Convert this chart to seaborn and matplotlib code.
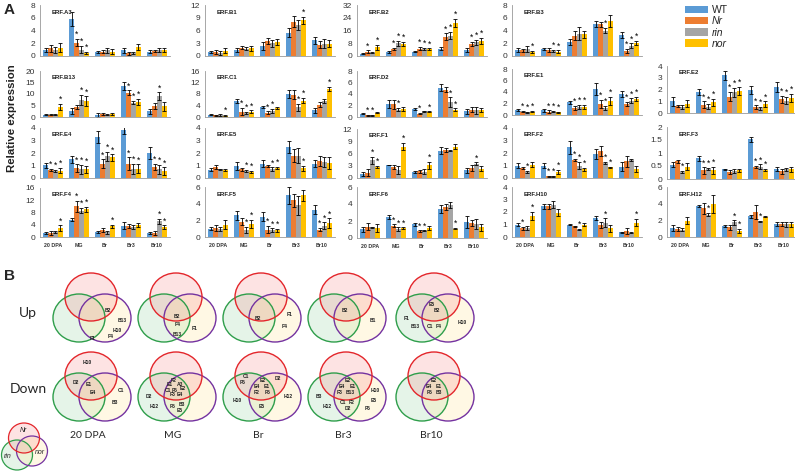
import numpy as np
import pandas as pd
import matplotlib
matplotlib.use("Agg")
import matplotlib.pyplot as plt
from matplotlib.patches import Ellipse, Patch
import seaborn as sns

# ---------------- data ----------------
STAGES = ["20 DPA", "MG", "Br", "Br3", "Br10"]
GENOTYPES = ["WT", "Nr", "rin", "nor"]
COLORS = ["#5B9BD5", "#ED7D31", "#A5A5A5", "#FFC000"]

# rows = stages, columns = WT, Nr, rin, nor
ERF_A3 = [[1.0, 1.2, 0.9, 1.3], [5.8, 2.1, 1.0, 0.5], [0.6, 0.7, 0.9, 0.7], [0.9, 0.4, 0.5, 1.4], [0.7, 0.8, 0.9, 1.0]]
ERF_A3_ERR = [[0.3, 0.5, 0.5, 0.7], [1.1, 0.6, 0.6, 0.2], [0.2, 0.3, 0.4, 0.4], [0.4, 0.2, 0.2, 0.5], [0.2, 0.2, 0.3, 0.3]]
ERF_A3_SIG = ["0000", "0111", "0000", "0000", "0000"]

ERF_B1 = [[0.9, 0.9, 0.7, 1.2], [1.4, 2.0, 1.7, 1.8], [2.3, 3.6, 3.0, 3.3], [5.5, 8.1, 7.3, 8.4], [3.7, 2.7, 2.9, 2.9]]
ERF_B1_ERR = [[0.3, 0.4, 0.4, 0.6], [0.5, 0.4, 0.4, 0.6], [0.9, 0.7, 0.8, 0.7], [1.0, 1.3, 1.2, 0.8], [0.8, 0.9, 1.0, 0.8]]
ERF_B1_SIG = ["0000", "0000", "0000", "0001", "0000"]

ERF_B2 = [[1.5, 2.8, 2.1, 5.5], [2.6, 4.3, 7.9, 7.5], [2.8, 4.7, 4.3, 4.3], [4.7, 12.2, 12.8, 20.7], [3.6, 7.5, 8.5, 9.6]]
ERF_B2_ERR = [[0.4, 0.8, 0.3, 1.5], [0.8, 0.8, 1.8, 1.3], [0.5, 1.0, 0.8, 0.5], [1.0, 2.0, 2.2, 2.5], [1.3, 1.5, 1.8, 2.0]]
ERF_B2_SIG = ["0101", "0111", "0111", "0111", "0111"]

ERF_B3 = [[1.0, 0.9, 1.1, 0.6], [1.1, 0.9, 0.8, 0.7], [2.2, 3.2, 3.5, 3.4], [5.0, 5.0, 4.0, 5.5], [3.3, 0.8, 1.6, 2.1]]
ERF_B3_ERR = [[0.3, 0.2, 0.5, 0.2], [0.2, 0.3, 0.2, 0.2], [0.4, 0.7, 1.0, 0.6], [0.5, 0.4, 0.4, 1.0], [0.5, 0.3, 0.4, 0.3]]
ERF_B3_SIG = ["0001", "0011", "0000", "0010", "0111"]

ERF_B13 = [[1.0, 1.0, 0.9, 4.3], [2.4, 4.3, 7.4, 7.0], [1.0, 1.3, 1.0, 1.3], [13.4, 10.6, 6.3, 6.6], [2.4, 4.6, 9.1, 4.6]]
ERF_B13_ERR = [[0.3, 0.3, 0.2, 1.3], [1.3, 0.8, 2.2, 2.0], [0.8, 0.6, 0.3, 0.4], [1.8, 1.0, 0.8, 1.2], [1.2, 1.3, 1.6, 1.8]]
ERF_B13_SIG = ["0001", "0011", "0000", "0111", "0010"]

ERF_C1 = [[0.8, 0.6, 0.8, 0.5], [5.6, 1.9, 1.4, 1.9], [3.5, 1.5, 2.2, 3.2], [8.0, 7.8, 3.4, 5.7], [2.3, 4.3, 5.5, 9.7]]
ERF_C1_ERR = [[0.2, 0.2, 0.4, 0.2], [0.8, 1.2, 0.5, 0.4], [0.5, 0.5, 0.7, 0.3], [1.4, 1.5, 1.2, 0.9], [0.8, 0.9, 0.8, 0.8]]
ERF_C1_SIG = ["0001", "0111", "0110", "0011", "0001"]

ERF_D2 = [[0.6, 0.3, 0.3, 0.75], [2.3, 2.2, 1.3, 1.4], [1.4, 0.6, 1.0, 0.9], [5.1, 4.75, 2.6, 1.3], [1.0, 1.3, 1.2, 1.2]]
ERF_D2_ERR = [[0.1, 0.05, 0.1, 0.1], [0.7, 0.8, 0.3, 0.4], [0.2, 0.1, 0.1, 0.1], [0.6, 0.4, 0.8, 0.2], [0.4, 0.4, 0.6, 0.3]]
ERF_D2_SIG = ["0110", "0010", "0101", "0011", "0000"]

ERF_E1 = [[0.9, 0.6, 0.5, 0.6], [0.8, 0.6, 0.6, 0.5], [2.2, 1.2, 1.4, 1.4], [4.5, 1.9, 1.2, 2.5], [3.6, 1.9, 2.5, 2.8]]
ERF_E1_ERR = [[0.2, 0.1, 0.1, 0.1], [0.2, 0.2, 0.1, 0.1], [0.3, 0.4, 0.4, 0.4], [1.0, 0.7, 0.4, 0.7], [0.5, 0.4, 0.4, 0.3]]
ERF_E1_SIG = ["0111", "0111", "0111", "0111", "0111"]

ERF_E2 = [[1.0, 0.6, 0.5, 0.8], [1.8, 0.7, 0.55, 0.9], [3.2, 1.4, 1.75, 1.85], [1.95, 0.5, 0.4, 0.75], [2.2, 1.15, 1.05, 1.3]]
ERF_E2_ERR = [[0.4, 0.1, 0.15, 0.3], [0.25, 0.3, 0.2, 0.3], [0.35, 0.4, 0.4, 0.35], [0.35, 0.15, 0.15, 0.25], [0.4, 0.3, 0.3, 0.35]]
ERF_E2_SIG = ["0000", "0111", "0111", "0111", "0111"]

ERF_E4 = [[1.03, 0.65, 0.55, 0.6], [1.5, 0.8, 0.7, 0.7], [3.27, 1.15, 1.75, 1.65], [3.85, 1.15, 0.75, 0.75], [2.0, 0.9, 0.7, 0.55]]
ERF_E4_ERR = [[0.2, 0.1, 0.1, 0.2], [0.3, 0.3, 0.35, 0.3], [0.5, 0.35, 0.35, 0.25], [0.35, 0.5, 0.4, 0.35], [0.45, 0.25, 0.35, 0.3]]
ERF_E4_SIG = ["0111", "0111", "0111", "0111", "0111"]

ERF_E5 = [[0.67, 0.9, 0.7, 0.65], [0.95, 0.7, 0.55, 0.5], [1.15, 0.95, 0.7, 0.8], [2.5, 1.8, 1.8, 0.8], [1.15, 1.4, 1.3, 1.2]]
ERF_E5_ERR = [[0.1, 0.15, 0.05, 0.1], [0.3, 0.1, 0.1, 0.1], [0.3, 0.1, 0.15, 0.1], [0.5, 0.5, 0.6, 0.2], [0.3, 0.4, 0.4, 0.5]]
ERF_E5_SIG = ["0000", "0011", "0011", "0001", "0000"]

ERF_F1 = [[1.05, 1.3, 4.3, 2.7], [3.2, 2.8, 1.9, 7.7], [1.45, 1.6, 1.5, 3.1], [6.7, 6.9, 6.7, 7.7], [1.9, 2.4, 3.5, 2.3]]
ERF_F1_ERR = [[0.5, 0.9, 0.9, 0.3], [0.1, 0.5, 1.0, 0.9], [0.15, 0.4, 0.6, 0.8], [0.9, 0.5, 0.1, 0.6], [0.6, 0.8, 0.3, 0.7]]
ERF_F1_SIG = ["0011", "0001", "0001", "0000", "0010"]

ERF_F2 = [[1.0, 0.8, 0.5, 1.05], [1.0, 0.15, 0.15, 0.5], [2.45, 1.45, 1.0, 0.7], [1.9, 2.2, 1.2, 0.85], [0.9, 1.35, 1.45, 0.75]]
ERF_F2_ERR = [[0.2, 0.1, 0.1, 0.2], [0.2, 0.03, 0.03, 0.15], [0.5, 0.1, 0.3, 0.1], [0.4, 0.4, 0.1, 0.05], [0.35, 0.45, 0.1, 0.25]]
ERF_F2_SIG = ["0010", "0111", "0111", "0011", "0000"]

ERF_F3 = [[0.55, 0.68, 0.27, 0.48], [0.8, 0.33, 0.4, 0.33], [0.38, 0.27, 0.3, 0.33], [1.53, 0.46, 0.48, 0.35], [0.38, 0.3, 0.38, 0.38]]
ERF_F3_ERR = [[0.1, 0.05, 0.04, 0.12], [0.1, 0.12, 0.04, 0.15], [0.02, 0.07, 0.07, 0.06], [0.1, 0.05, 0.08, 0.03], [0.08, 0.1, 0.06, 0.1]]
ERF_F3_SIG = ["0010", "0111", "0000", "0111", "0000"]

ERF_F4 = [[1.3, 1.3, 1.6, 2.9], [5.7, 10.0, 8.6, 9.1], [1.6, 2.4, 1.5, 3.5], [3.7, 3.5, 3.2, 4.0], [1.3, 1.3, 5.1, 3.2]]
ERF_F4_ERR = [[0.2, 0.5, 0.3, 0.9], [0.5, 1.8, 0.8, 0.8], [0.2, 0.7, 0.5, 0.5], [1.2, 0.6, 0.7, 0.6], [0.2, 0.8, 0.8, 0.6]]
ERF_F4_SIG = ["0001", "0111", "0001", "0000", "0011"]

ERF_F5 = [[1.0, 1.07, 1.0, 1.5], [2.6, 1.85, 0.85, 1.6], [2.45, 0.9, 0.85, 0.8], [5.0, 4.4, 3.8, 5.0], [3.3, 0.9, 1.35, 1.65]]
ERF_F5_ERR = [[0.2, 0.4, 0.25, 0.5], [0.5, 0.4, 0.4, 0.5], [0.5, 0.4, 0.2, 0.15], [1.0, 0.8, 1.1, 0.7], [0.5, 0.2, 0.4, 0.6]]
ERF_F5_SIG = ["0000", "0011", "0111", "0000", "0111"]

ERF_F6 = [[1.05, 1.35, 1.25, 1.15], [2.5, 1.45, 1.05, 1.15], [1.6, 0.8, 0.85, 1.15], [3.4, 3.6, 3.9, 1.1], [1.9, 1.8, 1.65, 1.25]]
ERF_F6_ERR = [[0.3, 0.45, 0.1, 0.5], [0.25, 0.15, 0.2, 0.1], [0.15, 0.1, 0.05, 0.25], [0.45, 0.35, 0.35, 0.05], [0.7, 0.35, 0.6, 0.45]]
ERF_F6_SIG = ["0000", "0111", "0110", "0001", "0000"]

ERF_H10 = [[1.0, 0.7, 0.75, 1.7], [2.45, 2.45, 2.6, 1.95], [1.0, 0.85, 0.6, 1.0], [1.55, 0.95, 1.15, 0.7], [0.38, 0.5, 0.35, 1.15]]
ERF_H10_ERR = [[0.1, 0.1, 0.15, 0.3], [0.2, 0.2, 0.3, 0.3], [0.05, 0.05, 0.05, 0.15], [0.15, 0.25, 0.35, 0.3], [0.05, 0.25, 0.05, 0.3]]
ERF_H10_SIG = ["0101", "0000", "0010", "0010", "0001"]

ERF_H12 = [[1.05, 0.95, 0.9, 1.95], [3.7, 3.45, 2.7, 4.0], [1.35, 1.2, 1.75, 0.75], [2.5, 3.0, 1.9, 2.45], [1.55, 1.55, 1.55, 1.55]]
ERF_H12_ERR = [[0.35, 0.2, 0.15, 0.4], [0.1, 0.65, 0.2, 1.1], [0.1, 0.3, 0.25, 0.25], [0.2, 0.85, 0.05, 0.1], [0.25, 0.25, 0.3, 0.3]]
ERF_H12_SIG = ["0000", "0010", "0011", "0010", "0000"]

# Venn contents (gene labels per stage)
UP_GENES = [["B2", "B13", "H10", "F4", "F1"],
            ["B2", "F4", "B13", "F1"],
            ["B2", "F1", "F4"],
            ["B2", "B1"],
            ["E5", "B2", "F1", "B13", "C1", "F4", "H10"]]
DOWN_GENES = [["H10", "D2", "E1", "E4", "C1", "B3"],
              ["F2", "E1", "A3", "C1", "F6", "E2", "F3", "E4", "D2", "H12", "F5", "B3", "E5"],
              ["C1", "F6", "E2", "E4", "E1", "D2", "F2", "F5", "H10", "H12", "E5"],
              ["E2", "E4", "E1", "F3", "B13", "B3", "H12", "C1", "F2", "D2", "H10", "E5", "F6"],
              ["E2", "E4", "E1", "F5", "B3"]]

# ---------------- layout ----------------
W, H = 795, 472
UP_OFFS = [[(17, 14), (31, 24), (26, 33), (20, 40), (2, 41)],
           [(1, 19), (2, 28), (1, 38), (19, 32)],
           [(-3, 22), (29, 18), (24, 30)],
           [(-1, 14), (27, 24)],
           [(-2, 8), (3, 14), (-27, 21), (-19, 30), (-4, 29), (5, 30), (28, 26)]]
DOWN_OFFS = [[(-4, -13), (-15, 6), (-2, 8), (2, 16), (30, 14), (24, 27)],
             [(-2, 5), (-6, 9), (4, 8), (-8, 14), (-1, 14), (7, 13), (-3, 19), (4, 18),
              (-27, 21), (-22, 31), (-3, 30), (6, 28), (4, 35)],
             [(-15, 1), (-18, 7), (2, 5), (-4, 10), (6, 11), (17, 2), (-4, 17), (7, 17),
              (-24, 25), (27, 21), (1, 31)],
             [(2, 5), (-4, 11), (7, 11), (-6, 17), (4, 17), (-27, 21), (-19, 31), (-3, 27),
              (6, 27), (2, 33), (29, 15), (28, 25), (22, 33)],
             [(0, 4), (-5, 10), (5, 10), (-4, 17), (5, 17)]]
VENN_X = [91, 176, 261, 346, 434]

sns.set_theme(style="white")
plt.rcParams["font.family"] = ["Liberation Sans", "DejaVu Sans"]

fig = plt.figure(figsize=(W / 100, H / 100), dpi=100)

ov = fig.add_axes([0, 0, 1, 1], zorder=0)
ov.set_xlim(0, W)
ov.set_ylim(H, 0)
ov.axis("off")
ov.patch.set_alpha(0)


def px_axes(l, t, w, h):
    return fig.add_axes([l / W, 1 - (t + h) / H, w / W, h / H], zorder=2)


def draw_panel(name, mean, err, sig, ymax, step, box, show_x):
    ax = px_axes(*box)
    df = pd.DataFrame({
        "stage": np.repeat(STAGES, len(GENOTYPES)),
        "genotype": GENOTYPES * len(STAGES),
        "value": np.ravel(mean),
    })
    sns.barplot(data=df, x="stage", y="value", hue="genotype", order=STAGES,
                hue_order=GENOTYPES, palette=COLORS, width=0.74, errorbar=None,
                saturation=1, legend=False, linewidth=0, ax=ax)
    bar_conts = list(ax.containers)
    for gi, cont in enumerate(bar_conts):
        for bar in list(cont):
            xc = bar.get_x() + bar.get_width() / 2
            si = int(round(xc))
            h = bar.get_height()
            e = err[si][gi]
            ax.errorbar(xc, h, yerr=e, fmt="none", ecolor="black", elinewidth=0.6,
                        capsize=1.3, capthick=0.6)
            if sig[si][gi] == "1":
                ax.text(xc, h + e, "*", ha="center", va="bottom",
                        fontsize=6.2, color="black")
    ax.set_ylim(0, ymax)
    ax.set_xlim(-0.5, len(STAGES) - 0.5)
    ticks = np.arange(0, ymax + step / 2, step)
    ax.set_yticks(ticks)
    ax.set_yticklabels([f"{t:g}" for t in ticks], fontsize=6, color="#333333")
    ax.set_xticks(range(len(STAGES)))
    ax.set_xticks(np.arange(-0.5, len(STAGES)), minor=True)
    if show_x:
        ax.set_xticklabels(STAGES, fontsize=3.8, fontweight="bold", color="#333333")
    else:
        ax.set_xticklabels([])
    ax.tick_params(axis="x", which="major", length=0, pad=4)
    ax.tick_params(axis="x", which="minor", length=2, width=0.5, color="#999999", direction="out")
    ax.tick_params(axis="y", length=2, width=0.5, color="#999999", pad=1.5, direction="out")
    ax.set_xlabel("")
    ax.set_ylabel("")
    for s in ["top", "right"]:
        ax.spines[s].set_visible(False)
    for s in ["left", "bottom"]:
        ax.spines[s].set_color("#999999")
        ax.spines[s].set_linewidth(0.6)
    ax.text(0.09, 0.86, name, transform=ax.transAxes, fontsize=4.3, fontweight="bold",
            color="#222222", va="center", ha="left")
    return ax


COLS = [40, 205, 357, 512, 667]
PW = 130
PANELS = [
    ("ERF.A3", ERF_A3, ERF_A3_ERR, ERF_A3_SIG, 8, 2, (COLS[0], 5, PW, 51), False),
    ("ERF.B1", ERF_B1, ERF_B1_ERR, ERF_B1_SIG, 12, 3, (COLS[1], 5, PW, 51), False),
    ("ERF.B2", ERF_B2, ERF_B2_ERR, ERF_B2_SIG, 32, 8, (COLS[2], 5, PW, 51), False),
    ("ERF.B3", ERF_B3, ERF_B3_ERR, ERF_B3_SIG, 8, 2, (COLS[3], 5, PW, 51), False),
    ("ERF.B13", ERF_B13, ERF_B13_ERR, ERF_B13_SIG, 20, 5, (COLS[0], 71, PW, 46), False),
    ("ERF.C1", ERF_C1, ERF_C1_ERR, ERF_C1_SIG, 16, 4, (COLS[1], 71, PW, 46), False),
    ("ERF.D2", ERF_D2, ERF_D2_ERR, ERF_D2_SIG, 8, 2, (COLS[2], 71, PW, 46), False),
    ("ERF.E1", ERF_E1, ERF_E1_ERR, ERF_E1_SIG, 8, 2, (COLS[3], 69, PW, 46), False),
    ("ERF.E2", ERF_E2, ERF_E2_ERR, ERF_E2_SIG, 4, 1, (COLS[4], 66, PW, 47), False),
    ("ERF.E4", ERF_E4, ERF_E4_ERR, ERF_E4_SIG, 4, 1, (COLS[0], 128, PW, 50), False),
    ("ERF.E5", ERF_E5, ERF_E5_ERR, ERF_E5_SIG, 4, 1, (COLS[1], 128, PW, 50), False),
    ("ERF.F1", ERF_F1, ERF_F1_ERR, ERF_F1_SIG, 12, 3, (COLS[2], 129, PW, 49), False),
    ("ERF.F2", ERF_F2, ERF_F2_ERR, ERF_F2_SIG, 4, 1, (COLS[3], 128, PW, 50), False),
    ("ERF.F3", ERF_F3, ERF_F3_ERR, ERF_F3_SIG, 2, 0.5, (COLS[4], 127, PW, 52), False),
    ("ERF.F4", ERF_F4, ERF_F4_ERR, ERF_F4_SIG, 16, 4, (COLS[0], 188, PW, 49), True),
    ("ERF.F5", ERF_F5, ERF_F5_ERR, ERF_F5_SIG, 6, 2, (COLS[1], 187, PW, 50), True),
    ("ERF.F6", ERF_F6, ERF_F6_ERR, ERF_F6_SIG, 6, 2, (COLS[2], 187, PW, 51), True),
    ("ERF.H10", ERF_H10, ERF_H10_ERR, ERF_H10_SIG, 4, 1, (COLS[3], 187, PW, 50), True),
    ("ERF.H12", ERF_H12, ERF_H12_ERR, ERF_H12_SIG, 6, 2, (COLS[4], 187, PW, 50), True),
]
for p in PANELS:
    draw_panel(*p)

# legend
handles = [Patch(facecolor=c, edgecolor="none") for c in COLORS]
leg = fig.legend(handles, GENOTYPES, loc="upper left", bbox_to_anchor=(685 / W, 1 - 5 / H),
                 frameon=False, fontsize=7.5, handlelength=2.2, handleheight=0.7,
                 labelspacing=0.12, handletextpad=0.35, borderpad=0, borderaxespad=0)
for t in leg.get_texts()[1:]:
    t.set_style("italic")

# panel letters / axis label
ov.text(4, 10, "A", fontsize=11, fontweight="bold", va="center", ha="left")
ov.text(4, 276, "B", fontsize=11, fontweight="bold", va="center", ha="left")
ov.text(12, 118, "Relative expression", rotation=90, fontsize=8.2, fontweight="bold",
        va="center", ha="center", color="#222222")

# ---------------- Venn diagrams ----------------
RED, GREEN, PURPLE = "#E3262B", "#2F9E4B", "#7432A0"


def venn(cx, cy, w=52, h=48, lw=1.0):
    specs = [((cx - 12 * w / 52, cy + 21 * h / 48), GREEN, (0.55, 0.82, 0.6, 0.22)),
             ((cx + 14 * w / 52, cy + 21 * h / 48), PURPLE, (1.0, 0.92, 0.65, 0.3)),
             ((cx, cy), RED, (0.97, 0.5, 0.5, 0.22))]
    for (x, y), ec, fc in specs:
        ov.add_patch(Ellipse((x, y), w, h, facecolor=fc, edgecolor="none"))
    for (x, y), ec, fc in specs:
        ov.add_patch(Ellipse((x, y), w, h, facecolor="none", edgecolor=ec, lw=lw))


for i, cx in enumerate(VENN_X):
    venn(cx, 297)
    for g, (dx, dy) in zip(UP_GENES[i], UP_OFFS[i]):
        ov.text(cx + dx, 297 + dy, g, fontsize=3.6, fontweight="bold", ha="center",
                va="center", color="#222222")
    venn(cx, 376)
    for g, (dx, dy) in zip(DOWN_GENES[i], DOWN_OFFS[i]):
        ov.text(cx + dx, 376 + dy, g, fontsize=3.6, fontweight="bold", ha="center",
                va="center", color="#222222")
    ov.text(cx - 3, 436, STAGES[i], fontsize=7.5, ha="center", va="center",
            family=["Lato", "DejaVu Sans"])

ov.text(28, 313, "Up", fontsize=10, ha="center", va="center", family=["Lato", "DejaVu Sans"])
ov.text(28, 389, "Down", fontsize=10, ha="center", va="center", family=["Lato", "DejaVu Sans"])

# key venn
ov.add_patch(Ellipse((17, 455), 31, 30, facecolor=(0.55, 0.82, 0.6, 0.22), edgecolor="none"))
ov.add_patch(Ellipse((32, 451), 31, 30, facecolor=(1.0, 0.92, 0.65, 0.3), edgecolor="none"))
ov.add_patch(Ellipse((24, 438), 31, 30, facecolor=(0.97, 0.5, 0.5, 0.22), edgecolor="none"))
ov.add_patch(Ellipse((17, 455), 31, 30, facecolor="none", edgecolor=GREEN, lw=0.9))
ov.add_patch(Ellipse((32, 451), 31, 30, facecolor="none", edgecolor=PURPLE, lw=0.9))
ov.add_patch(Ellipse((24, 438), 31, 30, facecolor="none", edgecolor=RED, lw=0.9))
ov.text(23, 431, "Nr", fontsize=5, style="italic", ha="center", va="center")
ov.text(8, 456, "rin", fontsize=5, style="italic", ha="center", va="center")
ov.text(40, 453, "nor", fontsize=5, style="italic", ha="center", va="center")

fig.savefig("out.png", dpi=100)
